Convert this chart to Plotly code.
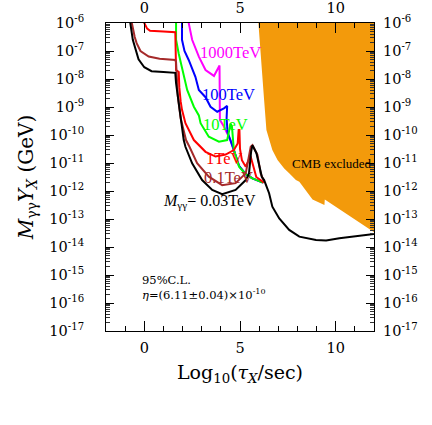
import plotly.graph_objects as go

# lifetime log10(tau_X/sec) and log10(M_gg Y_X / GeV)
tau_003 = [-0.8, -0.73, -0.6, -0.45, -0.3, 0.0, 0.38, 1.0, 1.62, 1.66, 1.77, 1.85, 1.97, 2.06, 2.15,
           2.5, 3.02, 3.55, 4.07, 4.77, 5.3, 5.47, 5.58, 5.65, 5.86, 6.14, 6.26, 6.52, 6.69, 7.05,
           7.57, 8.1, 8.97, 9.5, 10.19, 10.89, 11.77, 12.1]
logy_003 = [-5.9, -6.0, -6.6, -7.0, -7.3, -7.58, -7.72, -7.75, -7.78, -8.15, -8.75, -9.23, -9.7, -10.18, -10.42,
            -11.01, -11.61, -11.96, -12.11, -11.96, -11.61, -11.37, -10.6, -10.36, -10.65, -11.49, -11.61, -12.08, -12.56, -12.98,
            -13.39, -13.63, -13.75, -13.77, -13.69, -13.63, -13.55, -13.53]

tau_01 = [-0.7, -0.65, -0.5, -0.4, -0.2, 0.23, 0.8, 1.62, 1.66, 1.72, 1.75, 1.9, 2.07, 2.18, 2.36,
          2.76, 3.37, 4.07, 4.77, 5.3, 5.56, 5.65, 5.91, 6.08, 6.26]
logy_01 = [-5.9, -6.0, -6.5, -6.72, -7.0, -7.2, -7.28, -7.32, -7.4, -8.0, -8.6, -9.4, -9.82, -10.18, -10.42,
           -11.01, -11.49, -11.79, -11.72, -11.37, -10.42, -10.36, -10.71, -11.37, -11.67]

tau_1 = [-0.05, 0.0, 0.15, 0.3, 1.0, 1.62, 1.64, 1.66, 1.8, 1.83, 1.9, 1.97, 2.15, 2.59, 3.2,
         3.72, 4.25, 4.68, 4.88, 4.93, 4.97, 5.0, 5.1, 5.3, 5.45, 5.55, 5.65, 5.85, 6.25]
logy_1 = [-5.9, -6.0, -6.2, -6.28, -6.3, -6.33, -7.0, -7.68, -7.75, -8.3, -8.8, -9.1, -9.58, -10.18, -10.6,
          -10.77, -10.7, -10.54, -10.3, -9.82, -9.82, -10.5, -10.9, -11.13, -10.9, -10.75, -11.0, -11.5, -11.7]

tau_10 = [1.66, 1.66, 1.8, 2.06, 2.24, 2.59, 2.85, 2.94, 3.37, 3.9, 4.33, 4.51, 4.58, 4.68, 4.95,
          5.3, 5.65, 6.2]
logy_10 = [-5.9, -6.6, -7.1, -7.92, -8.39, -8.99, -9.3, -9.58, -10.06, -10.24, -10.18, -9.6, -9.7, -10.54, -11.13,
           -11.4, -11.55, -11.7]

tau_100 = [1.97, 1.97, 2.1, 2.32, 2.67, 2.85, 3.2, 3.46, 3.81, 4.16, 4.33, 4.3, 4.35, 4.5, 4.68,
           4.95, 5.3, 5.65, 6.2]
logy_100 = [-5.9, -6.6, -7.0, -7.32, -7.92, -8.39, -8.65, -8.99, -9.17, -9.05, -8.96, -9.4, -9.9, -10.18, -10.54,
            -11.1, -11.4, -11.55, -11.7]

tau_1000 = [2.32, 2.32, 2.5, 2.85, 3.2, 3.64, 3.93, 3.93, 3.95, 4.16, 4.3, 4.5, 4.68, 4.95, 5.3,
            5.65, 6.2]
logy_1000 = [-5.9, -6.0, -6.6, -7.2, -7.68, -7.89, -7.52, -8.5, -9.46, -9.7, -9.9, -10.18, -10.54, -11.1, -11.4,
             -11.55, -11.7]

tau_cmb = [5.94, 5.96, 6.1, 6.17, 6.26, 6.38, 6.43, 6.52, 6.69, 6.96, 7.31, 7.57, 7.92, 8.1, 8.79,
           9.41, 9.43, 11.95, 12.5, 12.5]
logy_cmb = [-5.8, -6.0, -7.5, -7.92, -8.75, -9.82, -9.94, -10.18, -10.54, -10.89, -11.2, -11.37, -11.61, -11.67, -12.3,
            -12.5, -12.3, -13.45, -13.7, -5.8]

decades = list(range(-17, -5))
decade_text = ["10<sup>%d</sup>" % d for d in decades]

curves = [
    (tau_1000, logy_1000, "#FF00FF"),
    (tau_100, logy_100, "#0000FF"),
    (tau_10, logy_10, "#00FF00"),
    (tau_1, logy_1, "#FF0000"),
    (tau_01, logy_01, "#A52A2A"),
    (tau_003, logy_003, "#000000"),
]

labels = [
    (4.5, -7.04, "1000TeV", "#FF00FF"),
    (4.42, -8.57, "100TeV", "#0000FF"),
    (4.24, -9.64, "10TeV", "#00FF00"),
    (4.2, -10.83, "1TeV", "#FF0000"),
    (4.42, -11.51, "0.1TeV", "#A52A2A"),
]

serif = "DejaVu Serif"
times = "Liberation Serif"

fig = go.Figure()

fig.add_trace(go.Scatter(x=tau_cmb, y=[10 ** v for v in logy_cmb], fill="toself",
                         fillcolor="#F39A0B", line=dict(width=0), mode="lines",
                         hoverinfo="skip", showlegend=False))

for xs, ys, col in curves:
    fig.add_trace(go.Scatter(x=xs, y=[10 ** v for v in ys], mode="lines",
                             line=dict(color=col, width=2), showlegend=False))

# dummy trace so the top / right axes get drawn
fig.add_trace(go.Scatter(x=[None], y=[None], xaxis="x2", yaxis="y2", showlegend=False))

for x, ly, txt, col in labels:
    fig.add_annotation(x=x, y=ly, text=txt, showarrow=False,
                       font=dict(family=times, size=16.5, color=col))

fig.add_annotation(x=3.42, y=-12.36, text="<i>M</i><sub>γγ</sub>= 0.03TeV", showarrow=False,
                   font=dict(family=times, size=16, color="black"))
fig.add_annotation(x=9.8, y=-11.01, text="CMB excluded", showarrow=False,
                   font=dict(family=times, size=13, color="black"))
fig.add_annotation(x=-0.22, y=-15.45,
                   text="95%C.L.<br><i>η</i>=(6.11±0.04)×10<sup>-10</sup>",
                   showarrow=False, xanchor="left", align="left",
                   font=dict(family=serif, size=11.5, color="black"))

tickfont = dict(family=serif, size=14.5, color="black")
xcommon = dict(range=[-2, 12], tickvals=[0, 5, 10], ticks="inside", ticklen=10,
               tickcolor="black", showgrid=False, zeroline=False, tickfont=tickfont,
               automargin=False,
               minor=dict(dtick=1, tick0=0, ticks="inside", ticklen=5, tickcolor="black"))
ycommon = dict(type="log", range=[-17, -6], tickvals=[10.0 ** d for d in decades],
               ticktext=decade_text, ticks="inside", ticklen=8, tickcolor="black",
               showgrid=False, zeroline=False, tickfont=tickfont, automargin=False,
               minor=dict(dtick="D1", ticks="inside", ticklen=4, tickcolor="#333",
                          showgrid=False))

fig.update_layout(
    width=432, height=425,
    margin=dict(l=106, r=58, t=23, b=94),
    plot_bgcolor="white", paper_bgcolor="white",
    xaxis=dict(**xcommon, showline=True, linecolor="black", linewidth=1, mirror=True,
               ticklabelstandoff=4,
               title=dict(text="Log<sub>10</sub>(<i>τ</i><sub><i>X</i></sub>/sec)",
                          font=dict(family=serif, size=19, color="black"), standoff=10)),
    yaxis=dict(**ycommon, showline=True, linecolor="black", linewidth=1, mirror=True,
               ticklabelstandoff=18,
               title=dict(text="<i>M</i><sub>γγ</sub><i>Y</i><sub><i>X</i></sub> (GeV)",
                          font=dict(family=serif, size=20, color="black"), standoff=10)),
    xaxis2=dict(**xcommon, overlaying="x", side="top", showline=False, ticklabelstandoff=6),
    yaxis2=dict(**ycommon, overlaying="y", side="right", showline=False,
                ticklabelstandoff=8),
)

# drop the browser's default body margin so the figure sits at the page corner
fig.write_html("out.html", config={"displayModeBar": False},
               post_script="document.body.style.margin='0';")
